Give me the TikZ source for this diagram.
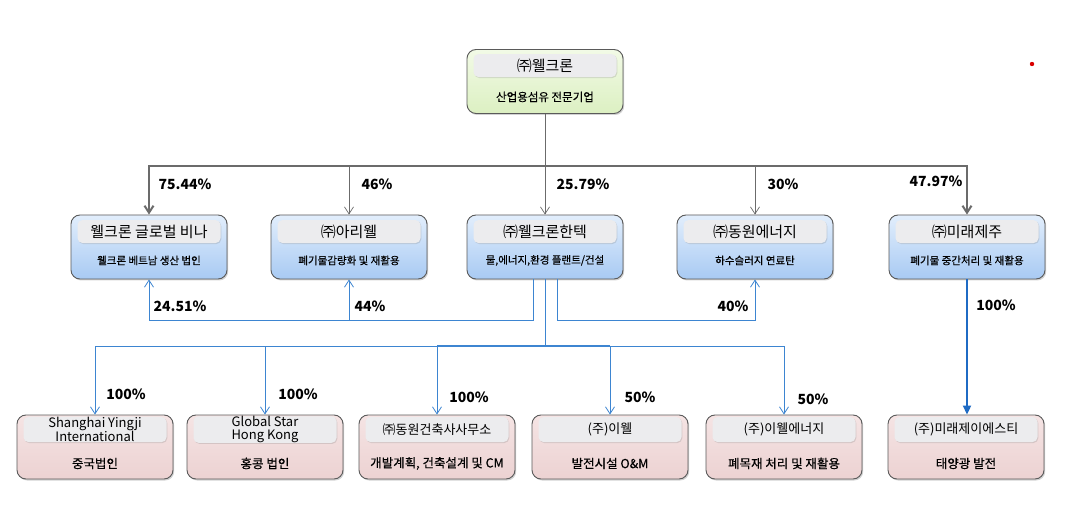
\documentclass[tikz,border=0pt]{standalone}
\usepackage{fontspec}
\setmainfont{Noto Sans CJK KR}
\newfontfamily\heavykr{Noto Sans CJK KR}[FakeBold=0.4]
\usetikzlibrary{arrows.meta,shadows}

\definecolor{boxline}{HTML}{5A5A5A}
\definecolor{greenA}{HTML}{F2FAE6}
\definecolor{greenB}{HTML}{DCF0C2}
\definecolor{blueA}{HTML}{E2EEFC}
\definecolor{blueB}{HTML}{A8CAF3}
\definecolor{pinkA}{HTML}{F5E4E4}
\definecolor{pinkB}{HTML}{ECD2D2}
\definecolor{tagfill}{HTML}{ECECEE}
\definecolor{linkgray}{HTML}{6B6B6B}
\definecolor{linkblue}{HTML}{3D85D1}
\definecolor{linkdark}{HTML}{1F6BC4}

\tikzset{
  unit/.style={draw=boxline, line width=0.9pt, rounded corners=9pt,
    minimum width=156pt, minimum height=64pt,
    drop shadow={opacity=0.35, shadow xshift=1.2pt, shadow yshift=-1.5pt}},
  topunit/.style={unit, top color=greenA, bottom color=greenB},
  midunit/.style={unit, top color=blueA, bottom color=blueB},
  lowunit/.style={unit, top color=pinkA, bottom color=pinkB},
  tag/.style={fill=tagfill, rounded corners=5pt, minimum width=143pt,
    minimum height=23pt, inner sep=0pt, align=center,
    font=\fontsize{15}{16}\selectfont,
    drop shadow={opacity=0.25, shadow xshift=0.8pt, shadow yshift=-1pt}},
  lowtag/.style={tag, minimum height=25pt, font=\fontsize{13}{13}\selectfont},
  desc/.style={inner sep=0pt, font=\heavykr\fontsize{10.5}{12}\selectfont},
  lowdesc/.style={inner sep=0pt, font=\heavykr\fontsize{12.5}{14}\selectfont},
  pct/.style={inner sep=0pt, font=\bfseries\fontsize{14}{14}\selectfont},
  thinarrow/.style={draw=linkgray, line width=0.7pt, -{Straight Barb[length=7pt,width=9pt]}},
  thickarrow/.style={draw=linkgray, line width=2pt, -{Straight Barb[length=7pt,width=9pt]}},
  bluearrow/.style={draw=linkblue, line width=0.8pt, -{Straight Barb[length=7pt,width=9pt]}},
  bluethick/.style={draw=linkdark, line width=2pt, -{Triangle[length=9pt,width=8pt]}}
}

\begin{document}
\begin{tikzpicture}[x=1pt,y=-1pt]
  \fill[white] (0,0) rectangle (1077,513);
  \useasboundingbox (0,0) rectangle (1077,513);

  % parent
  \node[topunit] (top) at (545,81.5) {};
  \node[tag] (topt) at ([yshift=-16.5pt]top.north) {㈜웰크론};
  \node[desc, font=\heavykr\fontsize{11.5}{13}\selectfont] (topd) at ([yshift=17pt]top.south) {산업용섬유 전문기업};

  % second row
  \node[midunit] (n1) at (149,247) {};
  \node[tag] (n1t) at ([yshift=-17pt]n1.north) {웰크론 글로벌 비나};
  \node[desc] (n1d) at ([yshift=19pt]n1.south) {웰크론 베트남 생산 법인};

  \node[midunit] (n2) at (349,247) {};
  \node[tag] (n2t) at ([yshift=-17pt]n2.north) {㈜아리웰};
  \node[desc] (n2d) at ([yshift=19pt]n2.south) {폐기물감량화 및 재활용};

  \node[midunit] (n3) at (545,247) {};
  \node[tag] (n3t) at ([yshift=-17pt]n3.north) {㈜웰크론한텍};
  \node[desc] (n3d) at ([yshift=19pt]n3.south) {물,에너지,환경 플랜트/건설};

  \node[midunit] (n4) at (755,247) {};
  \node[tag] (n4t) at ([yshift=-17pt]n4.north) {㈜동원에너지};
  \node[desc] (n4d) at ([yshift=19pt]n4.south) {하수슬러지 연료탄};

  \node[midunit] (n5) at (967,247) {};
  \node[tag] (n5t) at ([yshift=-17pt]n5.north) {㈜미래제주};
  \node[desc] (n5d) at ([yshift=19pt]n5.south) {폐기물 중간처리 및 재활용};

  % third row
  \node[lowunit] (m1) at (95,447) {};
  \node[lowtag] (m1t) at ([yshift=-15pt]m1.north) {Shanghai Yingji\\International};
  \node[lowdesc] (m1d) at ([yshift=16pt]m1.south) {중국법인};

  \node[lowunit] (m2) at (265,447) {};
  \node[lowtag] (m2t) at ([yshift=-15pt]m2.north) {Global Star\\Hong Kong};
  \node[lowdesc] (m2d) at ([yshift=16pt]m2.south) {홍콩 법인};

  \node[lowunit] (m3) at (437,447) {};
  \node[lowtag] (m3t) at ([yshift=-15pt]m3.north) {㈜동원건축사사무소};
  \node[lowdesc] (m3d) at ([yshift=16pt]m3.south) {개발계획, 건축설계 및 CM};

  \node[lowunit] (m4) at (610,447) {};
  \node[lowtag] (m4t) at ([yshift=-15pt]m4.north) {(주)이웰};
  \node[lowdesc] (m4d) at ([yshift=16pt]m4.south) {발전시설 O\&M};

  \node[lowunit] (m5) at (784,447) {};
  \node[lowtag] (m5t) at ([yshift=-15pt]m5.north) {(주)이웰에너지};
  \node[lowdesc] (m5d) at ([yshift=16pt]m5.south) {폐목재 처리 및 재활용};

  \node[lowunit] (m6) at (966,447) {};
  \node[lowtag] (m6t) at ([yshift=-15pt]m6.north) {(주)미래제이에스티};
  \node[lowdesc] (m6d) at ([yshift=16pt]m6.south) {태양광 발전};

  % parent to second row
  \coordinate (busT) at (545,166);
  \draw[draw=linkgray, line width=0.7pt] (top.south) -- (busT);
  \draw[thickarrow] (busT) -| (n1.north);
  \draw[thickarrow] (busT) -| (n5.north);
  \draw[thinarrow] (busT -| n2.north) -- (n2.north);
  \draw[thinarrow] (busT) -- (n3.north);
  \draw[thinarrow] (busT -| n4.north) -- (n4.north);

  % cross holdings of the second row
  \coordinate (fbL) at ([xshift=-12pt]n3.south);
  \coordinate (fbR) at ([xshift=12pt]n3.south);
  \coordinate (fbY) at (545,320);
  \draw[bluearrow] (fbL) -- (fbL |- fbY) -| (n1.south);
  \draw[bluearrow] (n2.south |- fbY) -- (n2.south);
  \draw[bluearrow] (fbR) -- (fbR |- fbY) -| (n4.south);

  % second row to third row
  \coordinate (busB) at (545,346);
  \draw[draw=linkblue, line width=0.8pt] (n3.south) -- (busB);
  \draw[draw=linkblue, line width=1.4pt] (busB -| m3.north) -- (busB -| m4.north);
  \draw[bluearrow] (busB) -| (m1.north);
  \draw[bluearrow] (busB) -| (m5.north);
  \draw[bluearrow] (busB -| m2.north) -- (m2.north);
  \draw[bluearrow] (busB -| m3.north) -- (m3.north);
  \draw[bluearrow] (busB -| m4.north) -- (m4.north);
  \draw[bluethick] (n5.south) -- (n5.south |- m6.north);

  % shares
  \node[pct] (p1) at (185,184) {75.44\%};
  \node[pct] (p2) at (377,184) {46\%};
  \node[pct] (p3) at (583,184) {25.79\%};
  \node[pct] (p4) at (783,184) {30\%};
  \node[pct] (p5) at (936,181) {47.97\%};
  \node[pct] (q1) at (180,306) {24.51\%};
  \node[pct] (q2) at (370,306) {44\%};
  \node[pct] (q3) at (733,306) {40\%};
  \node[pct] (q4) at (996,305) {100\%};
  \node[pct] (r1) at (126,394) {100\%};
  \node[pct] (r2) at (298,394) {100\%};
  \node[pct] (r3) at (469,397) {100\%};
  \node[pct] (r4) at (640,397) {50\%};
  \node[pct] (r5) at (813,399) {50\%};

  \fill[red!85!black] (1032,64) circle (2.2pt);
\end{tikzpicture}
\end{document}
